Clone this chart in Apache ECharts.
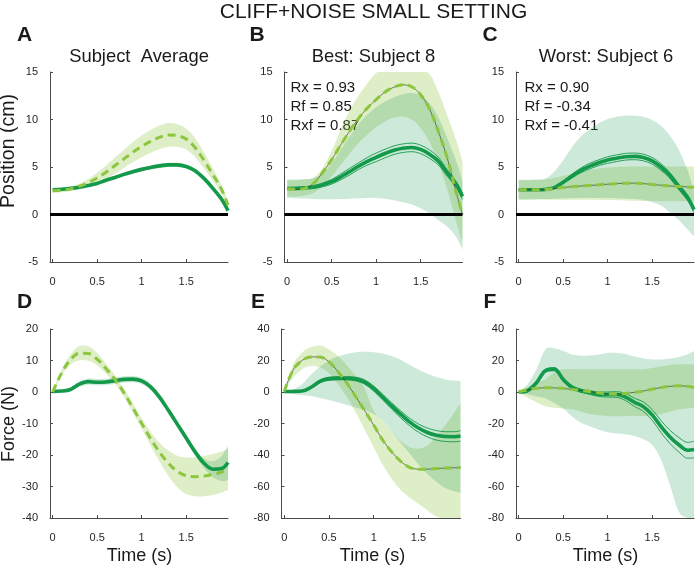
<!DOCTYPE html>
<html><head><meta charset="utf-8">
<script src="https://cdn.jsdelivr.net/npm/echarts@6/dist/echarts.min.js"></script>
<style>html,body{margin:0;padding:0;background:#fff}#c{width:698px;height:569px}</style>
</head><body><div id="c"></div>
<script>
// ---------- data ----------
const time = [0,0.1,0.2,0.3,0.4,0.5,0.6,0.7,0.8,0.9,1.0,1.1,1.2,1.3,1.4,1.5,1.6,1.7,1.8,1.9,1.97];
const xTicks = [0, 0.5, 1, 1.5];
const posTicks = [-5, 0, 5, 10, 15];
const forceTicksD = [-40, -30, -20, -10, 0, 10, 20];
const forceTicksEF = [-80, -60, -40, -20, 0, 20, 40];

// Panel A (position, subject average)
const aSolid   = [2.6,2.65,2.75,2.87,3.05,3.27,3.6,3.9,4.22,4.5,4.75,4.95,5.12,5.22,5.22,5.05,4.6,3.8,2.75,1.57,0.4];
const aSolidLo = [2.45,2.5,2.6,2.72,2.9,3.1,3.42,3.72,4.03,4.3,4.55,4.74,4.9,5.0,5.0,4.83,4.38,3.58,2.53,1.35,0.2];
const aSolidHi = [2.75,2.8,2.9,3.02,3.2,3.44,3.78,4.08,4.41,4.7,4.95,5.16,5.34,5.44,5.44,5.27,4.82,4.02,2.97,1.79,0.6];
const aDash    = [2.5,2.55,2.7,2.97,3.35,3.85,4.45,5.15,5.85,6.55,7.17,7.7,8.12,8.38,8.3,7.95,7.05,5.7,4.2,2.6,1.0];
const aDashLo  = [2.3,2.35,2.45,2.67,2.95,3.3,3.75,4.3,4.9,5.5,6.02,6.5,6.87,7.13,7.1,6.85,6.05,4.85,3.55,2.15,0.65];
const aDashHi  = [2.7,2.75,2.95,3.27,3.75,4.4,5.15,6.0,6.8,7.6,8.32,8.9,9.37,9.63,9.5,9.05,8.05,6.55,4.85,3.05,1.35];

// Panel B (position, best subject 8)
const bSolid   = [2.73,2.75,2.8,2.9,3.12,3.45,3.95,4.5,5.08,5.6,6.02,6.42,6.77,6.98,7.06,6.85,6.35,5.6,4.35,3.15,1.9];
const bSolidLo = [1.75,1.72,1.68,1.62,1.6,1.6,1.62,1.66,1.7,1.73,1.75,1.65,1.5,1.3,1.05,0.65,0.1,-0.6,-1.3,-2.4,-3.7];
const bSolidHi = [3.67,3.68,3.72,3.85,4.4,5.4,6.8,8.2,9.5,10.5,11.3,11.9,12.35,12.65,12.8,12.5,11.7,10.2,8.0,5.6,3.5];
const bDash    = [2.7,2.65,2.75,3.3,4.45,5.77,7.3,8.75,10.1,11.2,12.1,12.9,13.4,13.65,13.45,12.6,11.1,8.7,5.9,2.3,0.0];
const bDashLo  = [1.9,1.9,2.0,2.3,3.0,4.0,5.2,6.4,7.5,8.4,9.2,9.8,10.2,10.3,10.0,9.1,7.6,5.4,2.6,-0.8,-3.0];
const bDashHi  = [3.6,3.6,3.7,3.9,4.9,6.7,8.9,10.9,12.5,13.8,14.9,15.8,16.3,16.5,16.4,16.0,14.8,12.9,10.4,7.8,5.6];
const bSe      = [0,0.05,0.1,0.15,0.2,0.25,0.3,0.35,0.35,0.4,0.45,0.45,0.45,0.45,0.45,0.45,0.45,0.4,0.35,0.3,0.3];

// Panel C (position, worst subject 6)
const cSolid   = [2.6,2.6,2.6,2.63,2.83,3.4,4.05,4.65,5.1,5.45,5.73,5.92,6.08,6.12,6.0,5.65,5.0,4.1,2.9,1.75,0.5];
const cSolidLo = [1.57,1.58,1.6,1.62,1.66,1.7,1.74,1.75,1.75,1.75,1.75,1.72,1.68,1.64,1.55,1.3,0.95,0.2,-0.6,-1.6,-2.3];
const cSolidHi = [3.67,3.67,3.68,3.8,4.5,5.7,7.1,8.2,9.0,9.6,10.05,10.3,10.4,10.4,10.3,9.95,9.35,8.3,6.8,4.6,2.4];
const cDash    = [2.6,2.6,2.6,2.62,2.73,2.84,2.93,3.0,3.06,3.12,3.19,3.25,3.3,3.3,3.25,3.16,3.08,3.0,2.96,2.9,2.87];
const cDashLo  = [1.57,1.57,1.57,1.56,1.55,1.55,1.55,1.55,1.55,1.55,1.52,1.5,1.48,1.45,1.43,1.42,1.4,1.4,1.4,1.4,1.4];
const cDashHi  = [3.6,3.6,3.62,3.7,3.85,4.05,4.3,4.5,4.7,4.85,4.95,5.0,5.02,5.04,5.05,5.05,5.05,5.05,5.05,5.05,5.05];
const cSe      = [0,0,0,0.02,0.08,0.15,0.2,0.25,0.3,0.3,0.35,0.35,0.35,0.35,0.35,0.35,0.35,0.3,0.3,0.3,0.3];

// Panel D (force, subject average)
const dSolid   = [0.2,0.3,0.8,2.5,3.3,3.1,3.2,3.6,4.0,4.1,3.5,1.6,-1.6,-5.8,-10.2,-14.6,-19.0,-22.6,-24.5,-24.3,-22.4];
const dSolidLo = [0.0,0.0,0.3,1.7,2.3,2.1,2.2,2.6,3.0,3.1,2.5,0.6,-2.6,-6.8,-11.2,-15.6,-20.0,-24.1,-27.0,-28.3,-27.9];
const dSolidHi = [0.4,0.6,1.3,3.3,4.3,4.1,4.2,4.6,5.0,5.1,4.5,2.6,-0.6,-4.8,-9.2,-13.6,-18.0,-21.1,-22.0,-20.3,-16.9];
const dDash    = [0,6.0,10.3,12.3,12.2,10.4,7.4,4.0,-0.2,-5.0,-10.0,-14.8,-19.1,-22.6,-25.2,-26.6,-26.9,-26.7,-26.2,-25.4,-24.6];
const dDashLo  = [-0.3,5.0,8.7,10.0,9.9,8.4,5.8,2.7,-1.5,-6.4,-11.6,-17.0,-22.1,-26.6,-30.2,-32.4,-33.1,-33.1,-32.7,-31.9,-31.1];
const dDashHi  = [0.3,7.0,11.9,14.6,14.5,12.4,9.0,5.3,1.1,-3.6,-8.4,-12.6,-16.1,-18.6,-20.2,-20.8,-20.7,-20.3,-19.7,-18.9,-18.1];

// Panel E (force, best subject 8)
const eSolid   = [0.3,0.4,0.6,3.0,6.8,8.4,8.7,8.7,8.2,6.3,2.2,-3.2,-8.8,-14.1,-19.0,-22.9,-25.7,-27.5,-28.3,-28.4,-27.9];
const eSolidLo = [-0.5,-1.2,-2,-2.5,-3.8,-5,-6.5,-8.2,-9.8,-11.5,-14,-18,-25,-32,-39,-46,-52,-57,-61,-63,-64];
const eSolidHi = [0.6,1.5,5,11,16,20,22.5,24.2,25.2,25.5,25.3,24.5,22.8,20.5,17.3,14.3,11.6,9.5,8.0,7.3,7.0];
const eDash    = [0.3,14.0,20.0,22.3,22.2,19.2,13.0,5.6,-3.0,-11.9,-21.0,-30.5,-37.9,-43.9,-47.8,-49.0,-49.0,-48.6,-48.3,-48.1,-48.0];
const eDashLo  = [0,9,14.5,16.5,15.5,12,5,-3,-13,-24,-35,-46,-55,-62,-67,-71,-75,-79,-83,-86,-88];
const eDashHi  = [0.6,17.5,25,28.5,29.5,27,23,17,10,2,-12,-18,-25,-31,-35,-36,-34,-28,-21,-13,-7];
const eSe      = [0,0,0.2,0.5,0.8,1,1,1,1.2,1.4,1.6,1.8,2,2.2,2.4,2.6,2.8,3,3.1,3.2,3.3];

// Panel F (force, worst subject 6)
const fSolid   = [0,0.9,5.9,13.5,14.5,8.0,3.0,0.8,-0.3,-1.4,-1.6,-1.6,-3.2,-6.5,-9.3,-14.5,-22.0,-28.5,-33.5,-37.0,-36.5];
const fSolidLo = [-0.3,-1.5,-2.8,-4.0,-7,-10.5,-15.5,-19.5,-21.8,-24,-25.5,-26.3,-26.8,-28,-30,-33.5,-43,-59,-76,-90,-100];
const fSolidHi = [0.3,5,14.4,27,27.8,26,23.8,23.0,23.2,23.8,24.7,24.8,24.1,22.5,21.2,20.6,20.7,21.2,22.2,24,26];
const fDash    = [0,1.4,2.3,2.7,2.6,2.3,1.6,1.0,0.3,-0.5,-1.3,-1.3,-0.9,-0.2,0.6,1.8,2.8,3.6,3.9,3.6,2.8];
const fDashLo  = [-0.3,-3.5,-6.5,-9.0,-10,-10.5,-11,-12.5,-14,-14.8,-15.2,-15.4,-15.4,-15.3,-15.2,-14.8,-14,-12.5,-11,-10.3,-10];
const fDashHi  = [0.3,3,6,8,12.5,14.4,14.6,14.5,14.4,14.4,14.4,14.4,14.4,14.4,14.5,15.2,16.2,17.2,17.6,17.6,17.4];
const fSe      = [0,0.2,0.5,0.8,1,1,1,1,1.2,1.4,1.6,1.8,2.2,2.6,3,3.4,3.8,4.2,4.6,5,5.3];

const mainTitle = 'CLIFF+NOISE SMALL SETTING';
const panelLetters = ['A','B','C','D','E','F'];
const panelTitles = ['Subject  Average', 'Best: Subject 8', 'Worst: Subject 6'];
const statsB = ['Rx = 0.93', 'Rf = 0.85', 'Rxf = 0.87'];
const statsC = ['Rx = 0.90', 'Rf = -0.34', 'Rxf = -0.41'];
const yNames = ['Position (cm)', 'Force (N)'];
const xName = 'Time (s)';

// ---------- drawing ----------
const FONT = '"Liberation Sans", Arial, Helvetica, sans-serif';
const C_SOLID = '#12994a';
const C_DASH = '#8cc63f';
const C_SOLID_BAND = 'rgba(26,154,80,0.22)';
const C_DASH_BAND = 'rgba(141,198,63,0.29)';

const panels = [
  {solid:aSolid, sLo:aSolidLo, sHi:aSolidHi, dash:aDash, dLo:aDashLo, dHi:aDashHi, se:null, ticks:posTicks, zero:true},
  {solid:bSolid, sLo:bSolidLo, sHi:bSolidHi, dash:bDash, dLo:bDashLo, dHi:bDashHi, se:bSe, ticks:posTicks, zero:true},
  {solid:cSolid, sLo:cSolidLo, sHi:cSolidHi, dash:cDash, dLo:cDashLo, dHi:cDashHi, se:cSe, ticks:posTicks, zero:true},
  {solid:dSolid, sLo:dSolidLo, sHi:dSolidHi, dash:dDash, dLo:dDashLo, dHi:dDashHi, se:null, ticks:forceTicksD, zero:false},
  {solid:eSolid, sLo:eSolidLo, sHi:eSolidHi, dash:eDash, dLo:eDashLo, dHi:eDashHi, se:eSe, ticks:forceTicksEF, zero:false},
  {solid:fSolid, sLo:fSolidLo, sHi:fSolidHi, dash:fDash, dLo:fDashLo, dHi:fDashHi, se:fSe, ticks:forceTicksEF, zero:false}
];

const gridBoxes = [
  {left:50,    top:72,  width:178, height:190},
  {left:284.5, top:72,  width:178, height:190},
  {left:516,   top:72,  width:178, height:190},
  {left:50,    top:329, width:178, height:189},
  {left:281.5, top:329, width:179, height:189},
  {left:516,   top:329, width:178, height:189}
];

const pairs = arr => time.map((t, i) => [t, arr[i]]);
const SM = 0.35;

// smooth edge through pixel points (Catmull-Rom as cubic Bezier)
function curve(pts) {
  let s = '';
  for (let i = 0; i < pts.length - 1; i++) {
    const p0 = pts[i-1] || pts[i], p1 = pts[i], p2 = pts[i+1], p3 = pts[i+2] || pts[i+1];
    const k = 1/6;
    s += ' C' + (p1[0]+(p2[0]-p0[0])*k) + ' ' + (p1[1]+(p2[1]-p0[1])*k) + ' ' +
         (p2[0]-(p3[0]-p1[0])*k) + ' ' + (p2[1]-(p3[1]-p1[1])*k) + ' ' + p2[0] + ' ' + p2[1];
  }
  return s;
}

const grid = [], xAxis = [], yAxis = [], series = [];
panels.forEach((p, gi) => {
  grid.push(gridBoxes[gi]);
  xAxis.push({
    type:'value', gridIndex:gi, min:-0.03, max:1.97,
    axisLine:{onZero:false, lineStyle:{color:'#4a4a4a', width:1}},
    axisTick:{inside:true, length:3, customValues:xTicks, lineStyle:{color:'#4a4a4a'}},
    axisLabel:{customValues:xTicks, fontSize:11, color:'#262626', fontFamily:FONT, margin:14},
    splitLine:{show:false}
  });
  const tk = p.ticks;
  const ymin = tk[0], ymax = tk[tk.length-1];
  yAxis.push({
    type:'value', gridIndex:gi, min:ymin, max:ymax, interval:tk[1]-tk[0],
    axisLine:{show:true, onZero:false, lineStyle:{color:'#4a4a4a', width:1}},
    axisTick:{show:true, inside:true, length:3, lineStyle:{color:'#4a4a4a'}},
    axisLabel:{fontSize:11, color:'#262626', fontFamily:FONT, margin:12},
    splitLine:{show:false}
  });
  const base = {xAxisIndex:gi, yAxisIndex:gi, silent:true, animation:false};
  const band = (lo, hi, color) => {
    series.push(Object.assign({}, base, {
      type:'custom', clip:true, data:[[time[0], lo[0]]],
      renderItem: function (params, api) {
        const cl = v => Math.max(ymin, Math.min(ymax, v));
        const top = time.map((t, i) => api.coord([t, cl(hi[i])]));
        const bot = time.map((t, i) => api.coord([t, cl(lo[i])])).reverse();
        const d = 'M' + top[0][0] + ' ' + top[0][1] + curve(top) +
                  ' L' + bot[0][0] + ' ' + bot[0][1] + curve(bot) + ' Z';
        return {type:'path', shape:{pathData:d}, style:{fill:color, stroke:null}};
      }
    }));
  };
  band(p.dLo, p.dHi, C_DASH_BAND);
  band(p.sLo, p.sHi, C_SOLID_BAND);
  const line = Object.assign({}, base, {type:'line', symbol:'none', smooth:SM, clip:true});
  if (p.zero) {
    series.push(Object.assign({}, line, {data:[], markLine:{silent:true, symbol:['none','none'], label:{show:false},
      lineStyle:{color:'#000', width:3, type:'solid'}, data:[{yAxis:0}]}}));
  }
  if (p.se) {
    series.push(Object.assign({}, line, {data:time.map((t,i)=>[t, p.solid[i]+p.se[i]]), lineStyle:{color:C_SOLID, width:0.9}}));
    series.push(Object.assign({}, line, {data:time.map((t,i)=>[t, p.solid[i]-p.se[i]]), lineStyle:{color:C_SOLID, width:0.9}}));
  }
  series.push(Object.assign({}, line, {data:pairs(p.solid), lineStyle:{color:C_SOLID, width:3.6}}));
  if (p.se) {
    series.push(Object.assign({}, line, {data:pairs(p.dash), lineStyle:{color:'#333', width:0.8, opacity:0.8}}));
  }
  series.push(Object.assign({}, line, {data:pairs(p.dash), lineStyle:{color:C_DASH, width:3, type:[8,5]}}));
});

const txt = (text, x, y, size, opts) => Object.assign({
  type:'text', x:x, y:y, silent:true,
  style:Object.assign({text:text, fontSize:size, fontFamily:FONT, fill:'#1a1a1a',
    align:'center', verticalAlign:'middle', textAlign:'center', textVerticalAlign:'middle'}, (opts||{}).style || {})
}, (opts||{}).el || {});

const graphic = [
  txt(mainTitle, 373.5, 12, 21),
  txt(panelLetters[0], 24.5, 35, 21, {style:{fontWeight:'bold'}}),
  txt(panelLetters[1], 257, 35, 21, {style:{fontWeight:'bold'}}),
  txt(panelLetters[2], 490, 35, 21, {style:{fontWeight:'bold'}}),
  txt(panelLetters[3], 24.5, 302, 21, {style:{fontWeight:'bold'}}),
  txt(panelLetters[4], 258, 302, 21, {style:{fontWeight:'bold'}}),
  txt(panelLetters[5], 490, 302, 21, {style:{fontWeight:'bold'}}),
  txt(panelTitles[0], 139, 57, 18.4),
  txt(panelTitles[1], 373.5, 57, 18.4),
  txt(panelTitles[2], 606, 57, 18.4),
  txt(yNames[0], 9, 151, 19.5, {el:{rotation:Math.PI/2}}),
  txt(yNames[1], 9, 424, 18, {el:{rotation:Math.PI/2}}),
  txt(xName, 139.5, 556, 18),
  txt(xName, 372.5, 556, 18),
  txt(xName, 605.5, 556, 18)
];
statsB.forEach((s, i) => graphic.push(txt(s, 290.5, 87.5 + i*19.3, 15, {style:{align:'left', textAlign:'left'}})));
statsC.forEach((s, i) => graphic.push(txt(s, 524.5, 87.5 + i*19.3, 15, {style:{align:'left', textAlign:'left'}})));

const chart = echarts.init(document.getElementById('c'), null, {renderer:'canvas'});
chart.setOption({
  animation:false,
  backgroundColor:'#ffffff',
  textStyle:{fontFamily:FONT},
  grid:grid, xAxis:xAxis, yAxis:yAxis, series:series, graphic:graphic
});
</script></body></html>
